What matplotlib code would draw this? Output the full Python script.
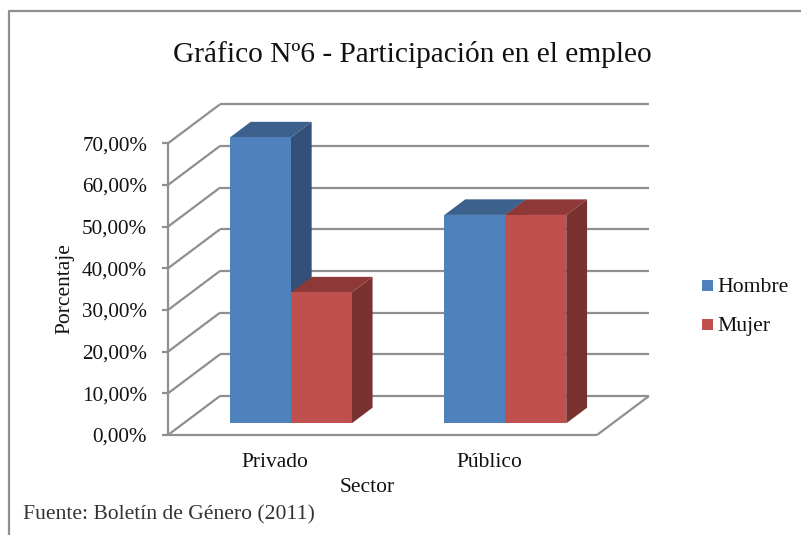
import matplotlib
matplotlib.use("Agg")
import matplotlib.pyplot as plt

W, H = 801, 535

sectors = ["Privado", "Público"]
hombre = [68.6, 50.0]
mujer = [31.4, 50.0]
yticks = [0, 10, 20, 30, 40, 50, 60, 70]
ylabels = ["0,00%", "10,00%", "20,00%", "30,00%", "40,00%", "50,00%", "60,00%", "70,00%"]

plt.rcParams["font.family"] = ["Liberation Serif", "DejaVu Serif"]

fig = plt.figure(figsize=(W / 100, H / 100), dpi=100)
ax = fig.add_axes([168 / W, 1 - 435 / H, (597 - 168) / W, (435 - 143.3) / H])
ax.set_xlim(0, 2)
ax.set_ylim(0, 70)
for s in ax.spines.values():
    s.set_visible(False)
ax.patch.set_visible(False)

# oblique depth of the box, in data units
dep_x = 52 / 214.5
dep_y = 39 / (291.7 / 70)
grid_col = "#8f8f8f"
bar_w = 0.284
f0, f1 = 0.3, 0.7


def pr(x, y, f):
    return x + f * dep_x, y + f * dep_y


def line(p, q):
    ax.plot([p[0], q[0]], [p[1], q[1]], color=grid_col, lw=1.6, clip_on=False,
            solid_capstyle="butt", zorder=1)


# walls and floor
for v in yticks:
    line(pr(0, v, 0), pr(0, v, 1))
    line(pr(0, v, 1), pr(2, v, 1))
line(pr(0, 0, 0), pr(2, 0, 0))
line(pr(2, 0, 0), pr(2, 0, 1))
line(pr(0, 0, 0), pr(0, 70, 0))


def box(x0, x1, v, front, top, side, z):
    a = pr(x0, 0, f0)
    b = pr(x1, 0, f0)
    c = pr(x1, v, f0)
    d = pr(x0, v, f0)
    e = pr(x1, 0, f1)
    g = pr(x1, v, f1)
    h = pr(x0, v, f1)
    ax.fill([b[0], e[0], g[0], c[0]], [b[1], e[1], g[1], c[1]], color=side, lw=0, clip_on=False, zorder=z)
    ax.fill([d[0], c[0], g[0], h[0]], [d[1], c[1], g[1], h[1]], color=top, lw=0, clip_on=False, zorder=z)
    ax.fill([a[0], b[0], c[0], d[0]], [a[1], b[1], c[1], d[1]], color=front, lw=0, clip_on=False, zorder=z + 0.1)


for i in range(len(sectors)):
    cx = i + 0.5
    box(cx - bar_w, cx, hombre[i], "#4f81bd", "#3d618d", "#325078", 3)
    box(cx, cx + bar_w, mujer[i], "#c0504d", "#8e3937", "#7a3230", 4)

ax.set_xticks([0.5, 1.5])
ax.set_xticklabels(sectors, fontsize=15.5)
ax.tick_params(axis="x", length=0, pad=13, colors="#111111")
ax.set_yticks(yticks)
ax.set_yticklabels(ylabels, fontsize=15.2)
ax.tick_params(axis="y", length=4, width=1.6, color=grid_col, pad=11, labelcolor="#111111")

fig.text(412 / W, 1 - 54 / H, "Gráfico Nº6 - Participación en el empleo", fontsize=21.2, ha="center", va="center", color="#111111")
fig.text(367 / W, 1 - 487 / H, "Sector", fontsize=15.5, ha="center", va="center", color="#111111")
fig.text(65 / W, 1 - 289 / H, "Porcentaje", fontsize=15.5, rotation=90, ha="center", va="center", color="#111111")
fig.text(23 / W, 1 - 515 / H, "Fuente: Boletín de Género (2011)", fontsize=15.6, ha="left", va="center", color="#333333")

# legend
for name, col, yy in [("Hombre", "#4f81bd", 285), ("Mujer", "#c0504d", 324)]:
    fig.patches.append(plt.Rectangle((702 / W, 1 - (yy + 5.5) / H), 11 / W, 11 / H, transform=fig.transFigure, color=col, lw=0))
    fig.text(717 / W, 1 - (yy + 2) / H, name, fontsize=15.6, ha="left", va="center", color="#111111")

# chart border, only top and left are visible in the crop
fig.add_artist(plt.Line2D([9 / W, 9 / W, 1], [0, 1 - 11 / H, 1 - 11 / H], transform=fig.transFigure,
                          color="#8f8f8f", lw=1.6))

fig.savefig("out.png", dpi=100)
